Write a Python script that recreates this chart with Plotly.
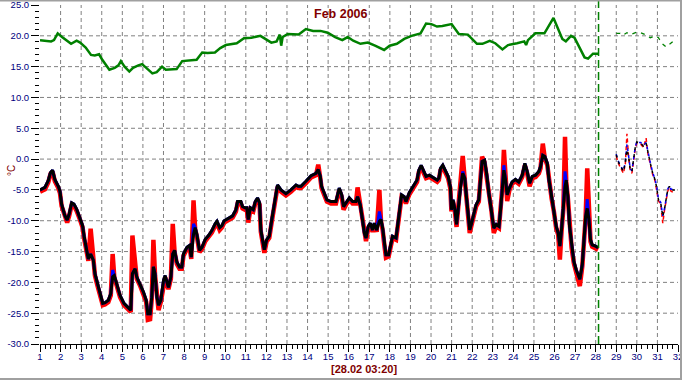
import plotly.graph_objects as go

# ---------------- data ----------------
T_DAYS = [1.00,1.24,1.40,1.51,1.61,1.72,1.89,1.97,2.05,2.21,
          2.32,2.42,2.54,2.65,2.78,2.94,3.07,3.15,3.27,3.35,
          3.46,3.59,3.67,3.79,3.92,4.05,4.16,4.32,4.44,4.53,
          4.61,4.73,4.89,5.08,5.30,5.41,5.49,5.62,5.70,5.86,
          6.03,6.16,6.24,6.35,6.43,6.51,6.59,6.68,6.76,6.87,
          7.00,7.08,7.24,7.36,7.45,7.54,7.65,7.78,7.89,7.97,
          8.14,8.27,8.35,8.46,8.54,8.62,8.75,8.87,9.03,9.19,
          9.35,9.51,9.60,9.73,9.84,9.95,10.11,10.36,10.52,10.60,
          10.76,10.84,10.96,11.05,11.12,11.22,11.36,11.46,11.57,11.67,
          11.73,11.82,11.90,12.01,12.14,12.25,12.38,12.46,12.54,12.71,
          12.95,13.19,13.44,13.55,13.68,13.92,14.17,14.41,14.52,14.62,
          14.68,14.81,14.94,15.14,15.38,15.46,15.54,15.66,15.75,15.87,
          16.03,16.19,16.35,16.43,16.56,16.68,16.76,16.84,16.95,17.05,
          17.16,17.24,17.36,17.49,17.57,17.65,17.73,17.81,17.94,18.05,
          18.13,18.30,18.41,18.51,18.57,18.70,18.78,18.95,19.16,19.32,
          19.41,19.52,19.65,19.76,19.92,20.13,20.30,20.38,20.46,20.57,
          20.70,20.83,20.94,20.99,21.07,21.16,21.24,21.32,21.43,21.54,
          21.64,21.72,21.80,21.88,21.97,22.08,22.19,22.32,22.40,22.48,
          22.60,22.70,22.81,22.94,23.05,23.17,23.30,23.38,23.46,23.54,
          23.62,23.70,23.81,23.94,24.10,24.26,24.43,24.56,24.67,24.79,
          24.92,25.08,25.24,25.32,25.43,25.53,25.65,25.73,25.86,25.97,
          26.08,26.18,26.26,26.34,26.43,26.51,26.57,26.65,26.73,26.83,
          26.94,27.05,27.15,27.23,27.35,27.43,27.51,27.59,27.67,27.75,
          27.83,27.99,28.12]

T_BLACK = [-5.0,-4.6,-3.5,-2.2,-1.8,-3.3,-4.4,-5.2,-7.3,-9.2,
           -9.9,-8.9,-7.1,-7.3,-8.1,-9.5,-10.8,-12.7,-14.8,-16.2,
           -15.4,-16.4,-18.6,-20.2,-21.8,-23.4,-23.3,-22.9,-21.8,-19.1,
           -18.9,-20.2,-22.1,-23.4,-24.2,-24.5,-18.6,-17.8,-19.1,-20.2,
           -21.6,-22.9,-25.1,-25.1,-22.4,-17.5,-18.6,-22.4,-23.7,-22.9,
           -19.7,-18.9,-20.8,-19.1,-15.4,-14.8,-16.7,-17.5,-17.5,-15.4,
           -14.3,-14.0,-15.9,-12.2,-11.1,-12.2,-14.8,-14.3,-13.0,-12.4,
           -11.6,-10.5,-10.1,-11.1,-10.8,-10.0,-9.7,-9.2,-8.2,-6.9,
           -6.9,-7.7,-7.9,-7.9,-9.8,-7.9,-8.2,-6.9,-6.3,-7.1,
           -11.5,-13.6,-14.7,-13.1,-12.5,-10.1,-7.1,-5.5,-4.2,-5.0,
           -5.6,-5.0,-4.2,-4.4,-4.4,-3.6,-2.7,-2.3,-1.7,-2.8,
           -4.4,-5.5,-6.6,-6.9,-6.9,-5.8,-4.7,-5.8,-7.7,-7.1,
           -6.3,-6.9,-6.9,-6.1,-7.4,-10.1,-12.0,-12.8,-10.9,-10.4,
           -11.5,-10.4,-11.5,-10.1,-9.8,-11.2,-13.6,-15.5,-15.5,-13.4,
           -12.5,-12.8,-10.1,-7.7,-5.8,-6.1,-6.9,-5.4,-4.2,-3.4,
           -1.8,-1.0,-2.0,-2.8,-2.6,-3.1,-3.4,-3.1,-1.5,-1.0,
           -1.8,-2.8,-4.5,-8.2,-6.6,-8.2,-10.6,-7.7,-4.7,-2.3,
           -3.1,-6.1,-9.3,-11.5,-10.4,-9.0,-7.4,-6.6,-3.4,-0.4,
           -0.2,-2.3,-5.5,-8.2,-11.2,-10.6,-10.9,-8.2,-4.5,-1.8,
           -3.4,-5.8,-4.7,-3.7,-3.3,-3.7,-2.6,-0.7,-2.0,-3.9,
           -2.8,-2.6,-2.0,-1.2,0.6,0.4,-0.7,-3.4,-6.1,-8.2,
           -10.9,-12.0,-14.1,-11.5,-7.7,-4.5,-3.4,-6.1,-10.9,-14.1,
           -16.6,-17.9,-19.0,-19.5,-17.1,-13.1,-9.3,-8.0,-9.8,-13.1,
           -13.9,-14.1,-14.4]

T_BLUE = [-5.0,-4.6,-3.5,-2.2,-1.8,-3.3,-4.4,-5.2,-7.3,-9.2,
          -9.9,-8.9,-7.1,-7.3,-8.1,-9.5,-10.8,-12.7,-14.8,-16.2,
          -15.4,-16.4,-18.6,-20.2,-21.8,-23.4,-23.3,-22.9,-21.8,-18.0,
          -18.9,-20.2,-22.1,-23.4,-24.2,-24.5,-18.6,-17.8,-19.1,-20.2,
          -21.6,-22.9,-25.1,-25.1,-22.4,-17.5,-18.6,-22.4,-23.7,-22.9,
          -19.7,-18.9,-20.8,-19.1,-15.4,-14.8,-16.7,-17.5,-17.5,-15.4,
          -14.3,-14.0,-15.9,-10.5,-11.1,-12.2,-14.8,-14.3,-13.0,-12.4,
          -11.6,-10.5,-10.1,-11.1,-10.8,-10.0,-9.7,-9.2,-8.2,-6.9,
          -6.9,-7.7,-7.9,-7.9,-9.8,-7.9,-8.2,-6.9,-6.3,-7.1,
          -11.5,-13.6,-14.7,-13.1,-12.5,-10.1,-7.1,-5.5,-4.2,-5.0,
          -5.6,-5.0,-4.2,-4.4,-4.4,-3.6,-2.7,-2.3,-1.7,-2.8,
          -4.4,-5.5,-6.6,-6.9,-6.9,-5.8,-4.7,-5.8,-7.7,-7.1,
          -6.3,-6.9,-6.9,-6.1,-7.4,-10.1,-12.0,-12.8,-10.9,-10.4,
          -11.5,-10.4,-11.5,-8.5,-9.8,-11.2,-13.6,-15.5,-15.5,-13.4,
          -12.5,-12.8,-10.1,-7.7,-5.8,-6.1,-6.9,-5.4,-4.2,-3.4,
          -1.8,-1.0,-2.0,-2.8,-2.6,-3.1,-3.4,-3.1,-1.5,-1.0,
          -1.8,-2.8,-4.5,-8.2,-6.6,-8.2,-10.6,-7.7,-4.7,-2.0,
          -3.1,-6.1,-9.3,-11.5,-10.4,-9.0,-7.4,-6.6,-3.4,-0.4,
          -0.2,-2.3,-5.5,-8.2,-11.2,-10.6,-10.9,-8.2,-4.5,-1.0,
          -3.4,-5.8,-4.7,-3.7,-3.3,-3.7,-2.6,-0.7,-2.0,-3.9,
          -2.8,-2.6,-2.0,-1.2,0.6,0.4,-0.7,-3.4,-6.1,-8.2,
          -10.9,-12.0,-14.1,-11.5,-7.7,-2.0,-3.4,-6.1,-10.9,-14.1,
          -16.6,-17.9,-19.0,-19.5,-17.1,-13.1,-9.3,-6.5,-9.8,-13.1,
          -13.9,-14.1,-14.4]

T_RED = [-5.3,-4.9,-3.8,-2.4,-2.0,-3.6,-4.7,-5.5,-7.6,-9.6,
         -10.3,-9.2,-7.4,-7.6,-8.4,-9.8,-11.1,-13.0,-15.1,-16.5,
         -11.3,-16.7,-18.9,-20.5,-22.1,-23.7,-23.6,-23.2,-22.1,-15.4,
         -19.2,-20.5,-22.4,-23.7,-24.5,-24.8,-12.4,-18.1,-19.4,-20.5,
         -21.9,-23.2,-26.1,-26.0,-22.7,-13.1,-18.9,-22.7,-24.5,-23.2,
         -20.0,-19.2,-21.1,-19.4,-10.5,-15.1,-17.0,-17.8,-17.8,-15.7,
         -14.6,-14.3,-16.2,-6.7,-11.4,-12.5,-15.1,-14.6,-13.3,-12.7,
         -11.9,-10.8,-10.4,-11.5,-11.1,-10.3,-10.0,-9.5,-8.5,-7.2,
         -7.2,-8.0,-8.2,-8.2,-10.3,-8.2,-8.5,-7.2,-6.6,-7.4,
         -11.8,-13.9,-15.2,-13.4,-12.8,-10.4,-7.4,-5.8,-4.5,-5.3,
         -5.9,-5.3,-4.5,-4.7,-4.7,-3.9,-3.0,-2.6,-0.9,-3.1,
         -4.7,-5.8,-6.9,-7.2,-7.2,-6.1,-5.0,-6.1,-8.2,-7.4,
         -6.6,-7.2,-7.2,-4.6,-7.7,-10.4,-12.3,-13.3,-11.2,-10.7,
         -11.8,-10.7,-11.8,-5.0,-10.1,-11.5,-13.9,-16.0,-15.8,-13.7,
         -12.8,-13.1,-10.4,-8.0,-6.1,-6.4,-7.2,-5.7,-4.5,-3.7,
         -2.1,-1.3,-2.3,-3.1,-2.9,-3.4,-3.7,-3.4,-1.8,-1.3,
         -2.1,-3.1,-4.8,-8.5,-6.9,-8.5,-11.0,-8.0,-5.0,0.5,
         -3.4,-6.4,-9.6,-12.0,-10.7,-9.3,-7.7,-6.9,-3.7,0.4,
         -0.5,-2.6,-5.8,-8.5,-12.0,-10.9,-11.2,-8.5,-4.8,1.5,
         -3.7,-6.8,-5.0,-4.0,-3.6,-4.0,-2.9,-1.0,-2.3,-4.4,
         -3.1,-2.9,-2.3,-1.5,2.5,0.1,-1.0,-3.7,-6.4,-8.5,
         -11.2,-12.3,-16.3,-11.8,-8.0,3.6,-3.7,-6.4,-11.2,-14.4,
         -16.9,-18.2,-19.3,-20.6,-17.4,-13.4,-9.6,-1.5,-10.1,-13.4,
         -14.2,-14.4,-14.7]

G_DAYS = [1.0,1.27,1.54,1.68,1.86,2.07,2.33,2.51,2.78,2.95,3.22,3.48,3.66,3.87,4.01,
          4.19,4.37,4.63,4.81,4.93,5.11,5.34,5.52,5.78,5.96,6.23,6.46,6.67,6.93,7.11,
          7.37,7.64,7.91,8.26,8.61,8.88,9.14,9.50,9.76,10.03,10.56,10.91,11.27,11.71,11.97,
          12.24,12.50,12.65,12.72,12.79,13.04,13.57,13.92,14.27,14.63,14.98,15.34,15.69,15.95,16.22,
          16.57,16.93,17.28,17.72,17.99,18.34,18.70,19.05,19.49,19.76,20.02,20.29,20.55,21.0,21.35,
          21.79,22.23,22.50,22.85,23.12,23.47,23.74,24.18,24.53,24.62,24.71,25.07,25.51,25.95,26.14,
          26.38,26.55,26.8,26.97,27.22,27.46,27.63,27.87,28.14]
G_VALS = [19.3,19.2,19.1,19.3,20.4,19.8,19.1,18.7,19.2,18.9,18.1,16.9,16.8,17.0,16.2,
          15.4,14.5,14.8,15.2,15.9,15.0,14.2,14.8,15.2,15.4,14.6,13.9,14.1,15.0,14.5,
          14.5,14.6,15.9,16.0,16.1,17.3,17.2,17.3,18.0,18.5,18.8,19.6,19.7,20.0,19.5,
          18.9,19.1,20.2,18.4,19.8,20.3,20.2,21.1,20.8,20.8,20.5,19.8,19.3,19.8,19.2,
          18.7,18.9,18.4,17.7,18.4,18.7,19.5,20.0,20.4,22.0,21.9,21.5,21.6,21.9,20.3,
          20.2,18.7,18.7,19.2,18.8,17.8,18.5,18.8,19.1,18.5,19.3,20.4,20.4,22.9,21.3,
          19.5,19.1,20.0,19.7,18.1,16.5,16.3,17.1,17.1]

F_DAYS = [29.0,29.06,29.16,29.27,29.35,29.44,29.52,29.6,29.68,29.76,29.84,29.92,30.0,30.11,30.19,30.32,
          30.45,30.53,30.65,30.77,30.89,30.97,31.05,31.16,31.26,31.34,31.42,31.5,31.58,31.66,31.77,31.85]
F_BLACK = [0.7,-0.1,-0.9,-1.5,-2.0,-0.6,1.5,0.4,-1.7,-2.0,-0.1,1.8,2.8,2.6,2.6,2.1,
           2.6,1.2,-0.6,-2.3,-3.4,-4.7,-6.6,-7.1,-9.3,-8.2,-6.3,-5.0,-4.4,-5.0,-5.0,-5.0]
F_RED = [0.5,-0.3,-1.1,-1.7,-2.3,-0.8,4.1,0.2,-1.9,-2.3,-0.3,1.6,2.6,2.4,2.4,1.9,
         3.4,1.0,-0.8,-2.5,-3.6,-4.9,-6.8,-7.3,-10.4,-8.4,-6.5,-5.2,-4.6,-5.2,-5.4,-5.2]
F_BLUE = [0.8,0.0,-0.8,-1.4,-1.9,-0.5,2.4,0.5,-1.6,-1.9,0.0,1.9,2.9,2.7,2.7,2.2,
          2.7,1.3,-0.5,-2.2,-3.3,-4.6,-6.5,-7.0,-9.2,-8.1,-6.2,-4.9,-4.3,-4.9,-4.9,-4.9]

FG_DAYS = [29.0,29.19,29.32,29.52,29.68,29.84,30.0,30.19,30.4,30.65,30.89,31.05,31.21,31.42,31.6,31.8]
FG_VALS = [20.4,20.4,20.1,20.5,20.2,20.4,20.6,20.5,20.2,19.7,20.0,19.7,18.8,18.2,18.7,19.2]

TITLE = "Feb 2006"
NOW_LABEL = "[28.02 03:20]"
NOW_DAY = 28 + 3 / 24 + 20 / 1440
Y_TITLE = "°C"
X_TICKS = list(range(1, 33))
Y_TICKS = [25, 20, 15, 10, 5, 0, -5, -10, -15, -20, -25, -30]
X_RANGE = [1, 32]
Y_RANGE = [-30, 25]

# ---------------- styling constants ----------------
W, H = 682, 380
ML, MR, MT, MB = 40, 4, 5, 36
PW, PH = W - ML - MR, H - MT - MB
GREEN = "#008000"
NAVY = "#000080"
DRED = "#800000"
GRID = "#808080"
FONT = "Liberation Sans, Arial, sans-serif"


def px2x(px):
    return (px - ML) / PW


def py2y(py):
    return (H - MB - py) / PH


fig = go.Figure()

# interior dashed grid (no lines on the frame edges)
grid_line = dict(color=GRID, width=1, dash="4px,3px")
for xv in X_TICKS:
    if X_RANGE[0] < xv < X_RANGE[1]:
        fig.add_shape(type="line", xref="x", yref="paper", x0=xv, x1=xv, y0=0, y1=1,
                      line=grid_line, layer="below")
for yv in Y_TICKS:
    if Y_RANGE[0] < yv < Y_RANGE[1]:
        fig.add_shape(type="line", xref="paper", yref="y", x0=0, x1=1, y0=yv, y1=yv,
                      line=grid_line, layer="below")

# main (measured) series
fig.add_trace(go.Scatter(x=G_DAYS, y=G_VALS, mode="lines",
                         line=dict(color=GREEN, width=2.5)))
fig.add_trace(go.Scatter(x=T_DAYS, y=T_RED, mode="lines",
                         line=dict(color="#ff0000", width=4.5)))
fig.add_trace(go.Scatter(x=T_DAYS, y=T_BLUE, mode="lines",
                         line=dict(color="#0000ff", width=3)))
fig.add_trace(go.Scatter(x=T_DAYS, y=T_BLACK, mode="lines",
                         line=dict(color="#000000", width=3)))

# forecast series (dashed, thin)
fig.add_trace(go.Scatter(x=FG_DAYS, y=FG_VALS, mode="lines",
                         line=dict(color=GREEN, width=1.3, dash="4px,5px")))
fig.add_trace(go.Scatter(x=F_DAYS, y=F_RED, mode="lines",
                         line=dict(color="#ff0000", width=1.5, dash="4px,3px")))
fig.add_trace(go.Scatter(x=F_DAYS, y=F_BLUE, mode="lines",
                         line=dict(color="#0000ff", width=1.5, dash="3px,4px")))
fig.add_trace(go.Scatter(x=F_DAYS, y=F_BLACK, mode="lines",
                         line=dict(color="#000000", width=1.5, dash="3px,4px")))

# "now" marker line
fig.add_shape(type="line", xref="x", yref="paper", x0=NOW_DAY, x1=NOW_DAY,
              y0=0, y1=py2y(0), line=dict(color=GREEN, width=1.5, dash="8px,4px"))

# outer frame (top, right, bottom)
frame = dict(color="#a0a0a0", width=2)
fig.add_shape(type="line", xref="paper", yref="paper", x0=px2x(0), x1=px2x(W),
              y0=py2y(0.5), y1=py2y(0.5), line=frame)
fig.add_shape(type="line", xref="paper", yref="paper", x0=px2x(W - 1), x1=px2x(W - 1),
              y0=py2y(0), y1=py2y(H), line=frame)
fig.add_shape(type="line", xref="paper", yref="paper", x0=px2x(0), x1=px2x(W),
              y0=py2y(H - 1), y1=py2y(H - 1), line=frame)

fig.add_annotation(text="<b>%s</b>" % TITLE, xref="paper", yref="paper",
                   x=px2x(341), y=py2y(14), showarrow=False,
                   xanchor="center", yanchor="middle",
                   font=dict(family=FONT, size=12.5, color=DRED))
fig.add_annotation(text="<b>%s</b>" % NOW_LABEL, xref="paper", yref="paper",
                   x=px2x(364), y=py2y(369), showarrow=False,
                   xanchor="center", yanchor="middle",
                   font=dict(family=FONT, size=11, color=DRED))
fig.add_annotation(text=Y_TITLE, xref="paper", yref="paper",
                   x=px2x(11), y=py2y(171), showarrow=False, textangle=-90,
                   xanchor="center", yanchor="middle",
                   font=dict(family=FONT, size=10, color=DRED))

fig.update_layout(
    width=W, height=H,
    margin=dict(l=ML, r=MR, t=MT, b=MB, autoexpand=False),
    paper_bgcolor="white", plot_bgcolor="white",
    showlegend=False, hovermode=False,
    xaxis=dict(range=X_RANGE, tickvals=X_TICKS, automargin=False,
               ticktext=[str(v) for v in X_TICKS],
               ticks="outside", ticklen=7, tickcolor="black", tickwidth=1,
               ticklabelstandoff=-3, ticklabeloverflow="allow",
               showline=True, linecolor="black", linewidth=1,
               showgrid=False, zeroline=False,
               tickfont=dict(family=FONT, size=9.5, color=NAVY),
               minor=dict(dtick=0.25, tick0=1, ticks="outside", ticklen=4,
                          tickcolor="black", showgrid=False)),
    yaxis=dict(range=Y_RANGE, tickvals=Y_TICKS, automargin=False,
               ticktext=["%.1f" % v for v in Y_TICKS],
               ticks="outside", ticklen=8, tickcolor="black", tickwidth=1,
               ticklabeloverflow="allow",
               showline=False, showgrid=False, zeroline=False,
               tickfont=dict(family=FONT, size=9.5, color=NAVY),
               minor=dict(dtick=1, tick0=0, ticks="outside", ticklen=4,
                          tickcolor="black", showgrid=False)),
)

fig.write_html("out.html")
